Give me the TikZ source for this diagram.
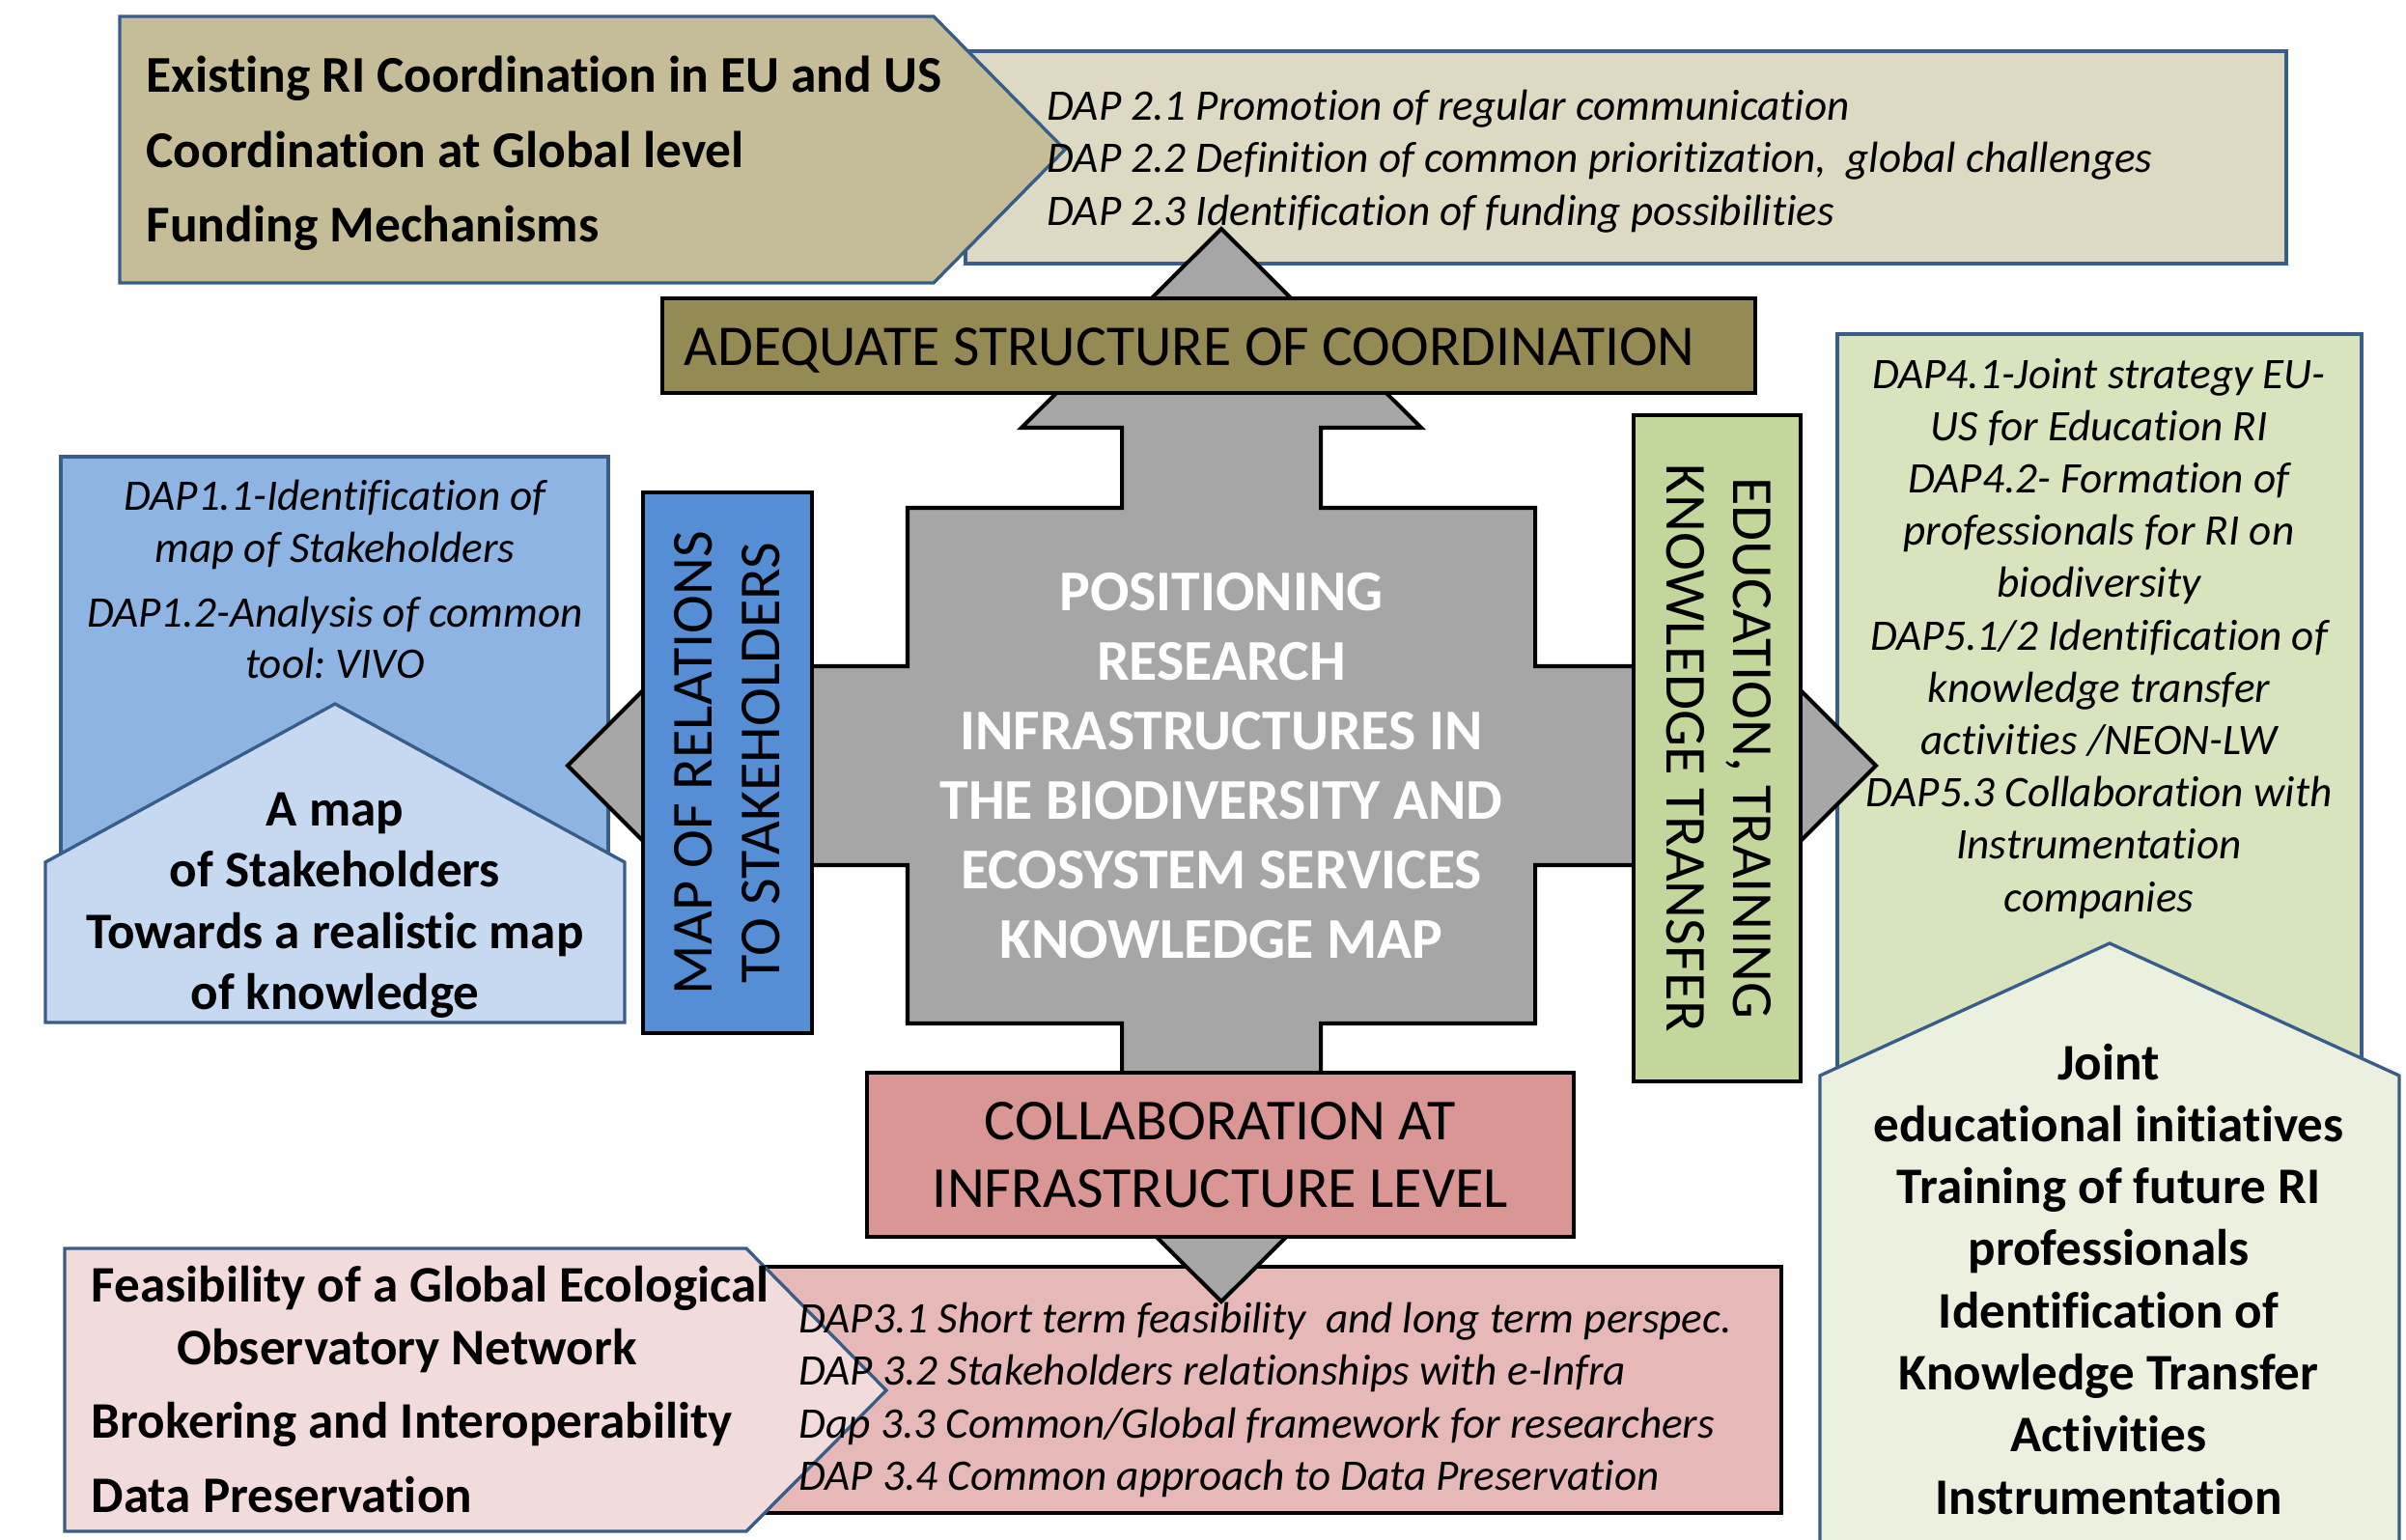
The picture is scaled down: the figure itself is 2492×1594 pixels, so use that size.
\documentclass[tikz,border=0pt]{standalone}
\usepackage{fontspec}
\setmainfont{Carlito}[Ligatures=NoCommon]
\frenchspacing
\definecolor{edgeblue}{HTML}{385D8A}
\definecolor{sand}{HTML}{DDD9C3}
\definecolor{tan}{HTML}{C4BD97}
\definecolor{olivebar}{HTML}{948A54}
\definecolor{skyA}{HTML}{8EB4E3}
\definecolor{skyB}{HTML}{C6D9F1}
\definecolor{skybar}{HTML}{558ED5}
\definecolor{leafA}{HTML}{D7E4BD}
\definecolor{leafB}{HTML}{EBF1DE}
\definecolor{leafbar}{HTML}{C3D69B}
\definecolor{roseA}{HTML}{E6B9B8}
\definecolor{roseB}{HTML}{F2DCDB}
\definecolor{rosebar}{HTML}{D99694}
\definecolor{crossgray}{HTML}{A6A6A6}
\tikzset{
  blueline/.style={draw=edgeblue, line width=0.95pt},
  blackline/.style={draw=black, line width=1.15pt},
  dap/.style={font=\fontsize{12.85}{15}\selectfont\itshape, inner sep=0pt},
  key/.style={font=\fontsize{15.1}{18}\selectfont\bfseries, inner sep=0pt},
  bigkey/.style={font=\fontsize{15.2}{18}\selectfont\bfseries, inner sep=0pt},
  bar/.style={font=\fontsize{17.1}{20}\selectfont, inner sep=0pt},
  core/.style={font=\fontsize{17}{20.5}\selectfont\bfseries, text=white, inner sep=0pt}
}
\begin{document}
\begin{tikzpicture}[x=0.01cm,y=-0.01cm]
\clip (0,0) rectangle (2492,1594);
% panels behind the cross
\draw[blueline,fill=sand] (1000,53) rectangle (2368,273);
\draw[blueline,fill=tan] (124,17) -- (967,17) -- (1103,155) -- (967,293) -- (124,293) -- cycle;
\draw[blueline,fill=skyA] (63,473) rectangle (630,1000);
\draw[blueline,fill=skyB] (47,1059) -- (47,893) -- (347,729) -- (647,893) -- (647,1059) -- cycle;
\draw[blueline,fill=leafA] (1903,346) rectangle (2446,1400);
\draw[blueline,fill=leafB] (1885,1620) -- (1885,1114) -- (2185,977) -- (2485,1114) -- (2485,1620) -- cycle;
\draw[blackline,fill=roseA] (780,1312) rectangle (1845,1567);
\draw[blueline,fill=roseB] (67,1293) -- (773,1293) -- (918,1440) -- (773,1586) -- (67,1586) -- cycle;
% four-way arrow
\draw[blackline,fill=crossgray] (1265,237) -- (1472,443) -- (1368,443) -- (1368,526) -- (1590,526)
  -- (1590,690) -- (1736,690) -- (1736,586) -- (1943,793) -- (1736,1000) -- (1736,896)
  -- (1590,896) -- (1590,1060) -- (1368,1060) -- (1368,1142) -- (1472,1142) -- (1265,1348)
  -- (1058,1142) -- (1162,1142) -- (1162,1060) -- (940,1060) -- (940,896) -- (795,896)
  -- (795,1000) -- (588,793) -- (795,586) -- (795,690) -- (940,690) -- (940,526)
  -- (1162,526) -- (1162,443) -- (1058,443) -- cycle;
% bars on the arms
\draw[blackline,fill=olivebar] (686,309) rectangle (1818,407);
\draw[blackline,fill=skybar] (666,510) rectangle (841,1070);
\draw[blackline,fill=leafbar] (1692,430) rectangle (1865,1120);
\draw[blackline,fill=rosebar] (898,1111) rectangle (1630,1281);
\node[bar, anchor=base, font=\fontsize{17}{20}\selectfont] (coord) at (1232,378) {ADEQUATE STRUCTURE OF COORDINATION};
\node[bar, anchor=base, rotate=90] (rel1) at (737,790) {MAP OF RELATIONS};
\node[bar, anchor=base, rotate=90] (rel2) at (807,790) {TO STAKEHOLDERS};
\node[bar, anchor=base, rotate=-90] (edu1) at (1795,775) {EDUCATION, TRAINING};
\node[bar, anchor=base, rotate=-90] (edu2) at (1726,775) {KNOWLEDGE TRANSFER};
\node[bar, anchor=base] (collab1) at (1264,1180) {COLLABORATION AT};
\node[bar, anchor=base] (collab2) at (1264,1250) {INFRASTRUCTURE LEVEL};
\foreach \t [count=\i] in {POSITIONING, RESEARCH, INFRASTRUCTURES IN, THE BIODIVERSITY AND,
    ECOSYSTEM SERVICES, KNOWLEDGE MAP}
  \node[core, anchor=base] (core\i) at (1265,{632+72*(\i-1)}) {\t};
% coordination
\foreach \t/\y [count=\i] in {Existing RI Coordination in EU and US/96, Coordination at Global level/173,
    Funding Mechanisms/250}
  \node[bigkey, anchor=base west] (glob\i) at (151,\y) {\t};
\foreach \t/\y [count=\i] in {DAP 2.1 Promotion of regular communication/125,
    {DAP 2.2 Definition of common prioritization,~ global challenges}/179,
    DAP 2.3 Identification of funding possibilities/233}
  \node[dap, anchor=base west] (dapB\i) at (1084,\y) {\t};
% stakeholders
\foreach \t/\y [count=\i] in {DAP1.1-Identification of/528, map of Stakeholders/582,
    DAP1.2-Analysis of common/649, tool: VIVO/702}
  \node[dap, anchor=base] (dapA\i) at (347,\y) {\t};
\foreach \t/\y [count=\i] in {A map/855, of Stakeholders/918, Towards a realistic map/982, of knowledge/1045}
  \node[key, anchor=base] (stake\i) at (347,\y) {\t};
% education
\foreach \t [count=\i] in {DAP4.1-Joint strategy EU-, US for Education RI, DAP4.2- Formation of,
    professionals for RI on, biodiversity, DAP5.1/2 Identification of, knowledge transfer,
    activities /NEON-LW, DAP5.3 Collaboration with, Instrumentation, companies}
  \node[dap, anchor=base] (dapD\i) at (2174,{402+54.2*(\i-1)}) {\t};
\foreach \t [count=\i] in {Joint, educational initiatives, Training of future RI, professionals,
    Identification of, Knowledge Transfer, Activities, Instrumentation}
  \node[key, anchor=base] (train\i) at (2184,{1118+64.3*(\i-1)}) {\t};
% infrastructure
\foreach \t/\y [count=\i] in {{DAP3.1 Short term feasibility~ and long term perspec.}/1380,
    DAP 3.2 Stakeholders relationships with e-Infra/1434,
    {Dap 3.3 Common/Global framework for researchers}/1489,
    DAP 3.4 Common approach to Data Preservation/1543}
  \node[dap, anchor=base west] (dapC\i) at (827,\y) {\t};
\node[key, anchor=base west] (infra1) at (94,1348) {Feasibility of a Global Ecological};
\node[key, anchor=base west] (infra2) at (183,1413) {Observatory Network};
\node[key, anchor=base west] (infra3) at (94,1489) {Brokering and Interoperability};
\node[key, anchor=base west] (infra4) at (94,1566) {Data Preservation};
\end{tikzpicture}
\end{document}
